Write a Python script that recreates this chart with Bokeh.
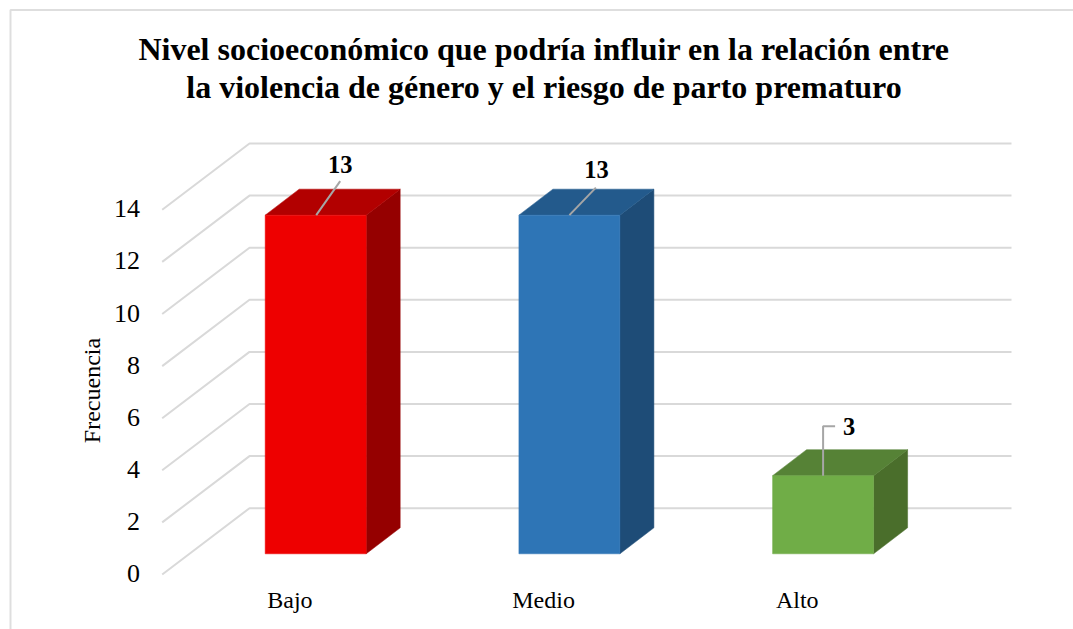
from bokeh.embed import file_html
from bokeh.resources import INLINE
from bokeh.plotting import figure
from bokeh.models import LinearAxis, FixedTicker, Range1d
from bokeh.core.properties import value

title_lines = ["Nivel socioeconómico que podría influir en la relación entre",
               "la violencia de género y el riesgo de parto prematuro"]
categories = ["Bajo", "Medio", "Alto"]
frecuencia = [13, 13, 3]
y_ticks = [0, 2, 4, 6, 8, 10, 12, 14]
y_title = "Frecuencia"
front_colors = ["#EE0000", "#2E75B6", "#70AD47"]
top_colors = ["#B20000", "#235A8C", "#568236"]
side_colors = ["#950000", "#1E4C77", "#4A6E2B"]

SERIF = "Liberation Serif"
W, H = 1073, 629
ORIGIN = 0
PX_X = 253.7      # px per category
PX_Y = 26.05      # px per frequency unit
X0_IMG = 289.4    # image px of category 0 label centre
Y0_IMG = 573.0    # image px of front tick 0


def dx(px):
    return px / PX_X


def dy(px):
    return px / PX_Y


def ix(px):
    return (px - X0_IMG) / PX_X


def iy(px):
    return (Y0_IMG - px) / PX_Y


BAR_SHIFT = dx(25.8)
BAR_HALF = dx(50.5)
BAR_BASE = dy(19.7)
GRID_DROP = dy(1)
DEPTH_X, DEPTH_Y = dx(34), dy(26)
WALL_X, WALL_Y = dx(87.3), dy(66.3)

p = figure(width=W, height=H, output_backend="svg", toolbar_location=None,
           x_axis_type=None, y_axis_type=None,
           x_range=Range1d(ix(ORIGIN), ix(ORIGIN + W)), y_range=Range1d(iy(ORIGIN + H), iy(ORIGIN)),
           min_border=0, min_border_left=0, min_border_right=0,
           min_border_top=0, min_border_bottom=0,
           outline_line_color=None, background_fill_color="white")

# chart frame
p.line([ix(10), ix(10), ix(ORIGIN + W)], [iy(ORIGIN + H), iy(9.6), iy(9.6)],
       line_color="#DEDEDE", line_width=2)

# gridlines with the floor/wall fold
x_left = ix(161.7)
x_right = ix(1011)
xs = [[x_left, x_left + WALL_X, x_right] for _ in y_ticks]
ys = [[t - GRID_DROP, t - GRID_DROP + WALL_Y, t - GRID_DROP + WALL_Y] for t in y_ticks]
p.multi_line(xs, ys, line_color="#D9D9D9", line_width=2)

# 3D bars
for i, v in enumerate(frecuencia):
    l = i + BAR_SHIFT - BAR_HALF
    r = i + BAR_SHIFT + BAR_HALF
    b = BAR_BASE
    t = BAR_BASE + v
    p.patch([r, r + DEPTH_X, r + DEPTH_X, r], [b, b + DEPTH_Y, t + DEPTH_Y, t],
            fill_color=side_colors[i], line_color=side_colors[i], line_width=0.5)
    p.patch([l, r, r + DEPTH_X, l + DEPTH_X], [t, t, t + DEPTH_Y, t + DEPTH_Y],
            fill_color=top_colors[i], line_color=top_colors[i], line_width=0.5)
    p.patch([l, r, r, l], [b, b, t, t],
            fill_color=front_colors[i], line_color=front_colors[i], line_width=0.5)

# leader lines and data labels (offsets in px from the top centre of the bar front)
leader_px = [[(0.5, 0), (24.5, -34)], [(0, 0), (26.5, -27.5)], [(0, 0), (0, -49.5), (12, -49.5)]]
label_px = [(24.5, -51), (27, -46), (26, -49)]
for i, v in enumerate(frecuencia):
    cx = i + BAR_SHIFT
    cy = BAR_BASE + v
    p.line([cx + dx(a) for a, _ in leader_px[i]], [cy - dy(b) for _, b in leader_px[i]],
           line_color="#A6A6A6", line_width=2)
p.text(x=[i + BAR_SHIFT + dx(label_px[i][0]) for i in range(3)],
       y=[BAR_BASE + v - dy(label_px[i][1]) for i, v in enumerate(frecuencia)],
       text=[str(v) for v in frecuencia],
       text_font=value(SERIF), text_font_style="bold", text_font_size="24.5px",
       text_color="#000000", text_align="center", text_baseline="middle")

# axes drawn inside the frame
yax = LinearAxis(ticker=FixedTicker(ticks=y_ticks), fixed_location=ix(143.5))
yax.axis_line_color = None
yax.major_tick_line_color = None
yax.minor_tick_line_color = None
yax.major_tick_out = 0
yax.major_label_standoff = 4
yax.major_label_text_font = SERIF
yax.major_label_text_font_size = "26px"
yax.major_label_text_color = "#000000"
p.add_layout(yax, "left")

xax = LinearAxis(ticker=FixedTicker(ticks=list(range(len(categories)))),
                 major_label_overrides={i: c for i, c in enumerate(categories)},
                 fixed_location=iy(586))
xax.axis_line_color = None
xax.major_tick_line_color = None
xax.minor_tick_line_color = None
xax.major_tick_out = 0
xax.major_label_standoff = 0
xax.major_label_text_font = SERIF
xax.major_label_text_font_size = "24px"
xax.major_label_text_color = "#000000"
p.add_layout(xax, "below")

p.text(x=[ix(91.5)], y=[iy(390)], text=[y_title], angle=1.5708,
       text_font=value(SERIF), text_font_size="24px", text_color="#000000",
       text_align="center", text_baseline="middle")

p.text(x=[ix(543.5), ix(543.5)], y=[iy(48.5), iy(86)], text=title_lines,
       text_font=value(SERIF), text_font_style="bold", text_font_size="32px",
       text_color="#000000", text_align="center", text_baseline="middle")

open("out.html", "w").write(file_html(p, INLINE))
